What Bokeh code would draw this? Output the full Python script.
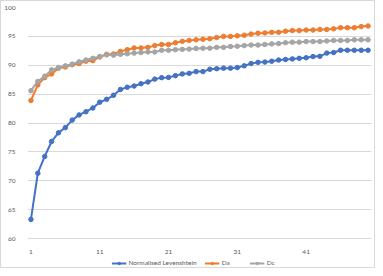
from bokeh.plotting import figure
from bokeh.layouts import column
from bokeh.models import Legend, LegendItem, FixedTicker, Range1d
from bokeh.embed import file_html
from bokeh.resources import INLINE

x = list(range(1, 51))
levenshtein = [63.3, 71.3, 74.2, 76.8, 78.3, 79.2, 80.5, 81.4, 81.95, 82.6,
               83.6, 84.1, 84.8, 85.8, 86.2, 86.4, 86.8, 87.1, 87.6, 87.85,
               87.9, 88.2, 88.5, 88.6, 88.9, 88.9, 89.3, 89.4, 89.5, 89.5,
               89.6, 89.9, 90.3, 90.5, 90.55, 90.7, 90.9, 91.0, 91.1, 91.2,
               91.3, 91.5, 91.55, 92.1, 92.2, 92.6, 92.6, 92.6, 92.6, 92.6]
da = [83.9, 86.6, 87.85, 88.5, 89.5, 89.7, 90.1, 90.3, 90.7, 90.8,
      91.45, 91.9, 91.95, 92.4, 92.7, 93.0, 93.0, 93.1, 93.4, 93.6,
      93.6, 93.9, 94.15, 94.3, 94.4, 94.5, 94.6, 94.8, 95.0, 95.0,
      95.1, 95.2, 95.4, 95.55, 95.6, 95.7, 95.7, 95.9, 96.0, 96.0,
      96.1, 96.1, 96.2, 96.2, 96.3, 96.5, 96.5, 96.5, 96.7, 96.8]
dc = [85.6, 87.2, 88.1, 89.2, 89.6, 89.9, 90.2, 90.6, 90.9, 91.2,
      91.5, 91.8, 91.75, 91.9, 92.0, 92.1, 92.2, 92.3, 92.3, 92.6,
      92.6, 92.7, 92.75, 92.8, 92.9, 92.95, 92.95, 93.1, 93.1, 93.25,
      93.3, 93.4, 93.5, 93.5, 93.6, 93.7, 93.75, 93.9, 94.0, 94.0,
      94.1, 94.1, 94.1, 94.2, 94.3, 94.3, 94.3, 94.4, 94.4, 94.4]
series_names = ["Normalised Levenshtein", "Da", "Dc"]
series_colors = ["#4472C4", "#ED7D31", "#A5A5A5"]
y_ticks = [60, 65, 70, 75, 80, 85, 90, 95, 100]
x_ticks = [1, 11, 21, 31, 41]

FONT = "Lato"
FS = "6.5px"
TXT = "#595959"
W = 373

p = figure(width=W, height=255, output_backend="svg", toolbar_location=None,
           x_range=Range1d(0.5, 50.5), y_range=Range1d(60, 100),
           min_border_left=18, min_border_right=3, min_border_top=6, min_border_bottom=12)
p.outline_line_color = None
p.background_fill_color = "white"
p.border_fill_color = "white"

p.xgrid.grid_line_color = None
p.ygrid.grid_line_color = "#d9d9d9"
p.ygrid.grid_line_width = 1

p.yaxis.ticker = FixedTicker(ticks=y_ticks)
p.xaxis.ticker = FixedTicker(ticks=x_ticks)
for ax in (p.xaxis, p.yaxis):
    ax.major_label_text_font = FONT
    ax.major_label_text_font_size = FS
    ax.major_label_text_color = TXT
    ax.major_tick_line_color = None
    ax.minor_tick_line_color = None
p.yaxis.axis_line_color = None
p.yaxis.major_label_standoff = 6
p.xaxis.axis_line_color = "#d9d9d9"
p.xaxis.major_label_standoff = 5

all_series = [levenshtein, da, dc]
for name, col, ys in zip(series_names, series_colors, all_series):
    p.line(x, ys, line_color=col, line_width=2)
    p.scatter(x, ys, marker="circle", size=4.5, fill_color=col, line_color=col)

# legend in a small strip below the chart (its renderers lie outside this strip's view)
lf = figure(width=W, height=11, output_backend="svg", toolbar_location=None,
            x_range=Range1d(0, 1), y_range=Range1d(0, 1),
            min_border=0, min_border_left=15, x_axis_type=None, y_axis_type=None)
lf.outline_line_color = None
lf.xgrid.grid_line_color = None
lf.ygrid.grid_line_color = None
items = []
for name, col, ys in zip(series_names, series_colors, all_series):
    r1 = lf.line(x, ys, line_color=col, line_width=2)
    r2 = lf.scatter(x, ys, marker="circle", size=4, fill_color=col, line_color=col)
    items.append(LegendItem(label=name, renderers=[r1, r2]))
legend = Legend(items=items, orientation="horizontal", location="bottom_center",
                label_text_font=FONT, label_text_font_size=FS, label_text_color=TXT,
                border_line_color=None, background_fill_alpha=0,
                glyph_width=15, glyph_height=6, label_standoff=2, spacing=8,
                padding=0, margin=1, label_height=7)
lf.add_layout(legend, "center")

layout = column(p, lf, spacing=0)
layout.styles = {"border": "1px solid #d9d9d9"}
open("out.html", "w").write(file_html(layout, INLINE))
